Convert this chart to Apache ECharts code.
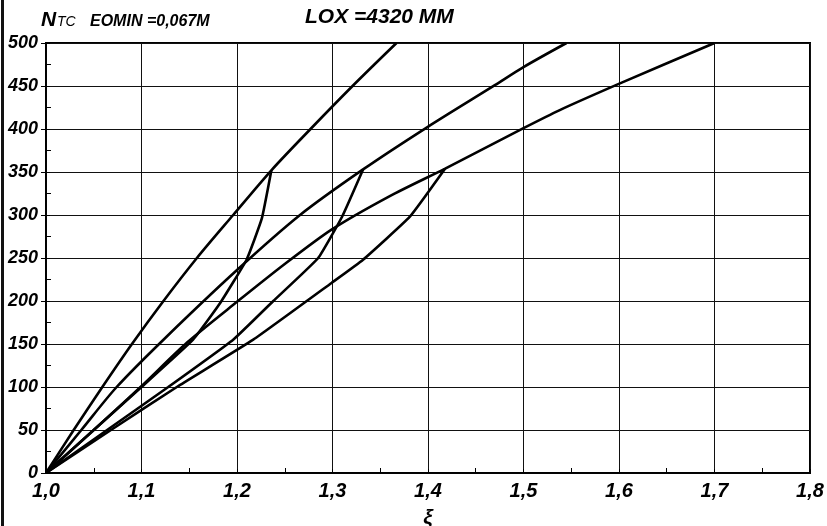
<!DOCTYPE html>
<html><head><meta charset="utf-8">
<script src="https://cdn.jsdelivr.net/npm/echarts@6/dist/echarts.min.js"></script>
<style>html,body{margin:0;padding:0;background:#fff}#c{width:827px;height:526px}</style>
</head><body><div id="c"></div>
<script>
// Curve set 1: loading branch and unloading branch
const loadA = [[1,0],[1.029,50],[1.059,100],[1.09,150],[1.123,200],[1.158,250],[1.196,300],[1.236,352],[1.277,400],[1.321,450],[1.367,500]];
const unloadA = [[1.236,352],[1.226,296],[1.21,248],[1.182,197],[1.154,155],[1.1,100],[1.05,50],[1,0]];
// Curve set 2
const loadB = [[1,0],[1.037,50],[1.074,100],[1.123,155],[1.2,236],[1.266,300],[1.332,353],[1.399,402],[1.47,451],[1.5,472],[1.545,500]];
const unloadB = [[1.332,353],[1.31,298],[1.285,250],[1.238,200],[1.196,155],[1.128,100],[1.064,50],[1,0]];
// Curve set 3
const loadC = [[1,0],[1.05,50],[1.099,100],[1.148,152],[1.2,199],[1.25,243],[1.299,283],[1.36,322],[1.418,354],[1.5,401],[1.538,422],[1.601,453],[1.7,500]];
const unloadC = [[1.418,354],[1.381,298],[1.332,248],[1.299,221],[1.217,155],[1.137,100],[1.068,50],[1,0]];

const yTicks = [0,50,100,150,200,250,300,350,400,450,500];
const xTickLabels = ['1,0','1,1','1,2','1,3','1,4','1,5','1,6','1,7','1,8'];

const FONT = "'Liberation Sans','DejaVu Sans'";
const chart = echarts.init(document.getElementById('c'));
const lineSeries = (d, s) => ({type:'line', data:d, smooth:s, showSymbol:false, symbol:'none',
  lineStyle:{color:'#000', width:2.6}, z:5, xAxisIndex:0, yAxisIndex:0});
chart.setOption({
  animation:false,
  backgroundColor:'#fff',
  grid:{left:46, right:17, top:43, bottom:53, show:true, borderColor:'#000', borderWidth:2,
    containLabel:false, outerBoundsMode:'none'},
  xAxis:[{
    type:'value', min:1.0, max:1.8, interval:0.1,
    axisLine:{show:true, lineStyle:{color:'#000', width:1.6}},
    axisTick:{show:true, inside:true, length:4, lineStyle:{color:'#000'}},
    minorTick:{show:true, splitNumber:2, length:5, lineStyle:{color:'#000', width:1}},
    splitLine:{show:true, lineStyle:{color:'#111', width:1}},
    axisLabel:{margin:8, color:'#000', fontFamily:FONT, fontStyle:'italic', fontWeight:'bold', fontSize:20,
      formatter:(v)=>xTickLabels[Math.round((v-1)*10)]},
    name:'ξ', nameLocation:'middle', nameGap:35,
    nameTextStyle:{color:'#000', fontFamily:FONT, fontStyle:'italic', fontWeight:'bold', fontSize:21}
  }],
  yAxis:[{
    type:'value', min:0, max:500, interval:50,
    axisLine:{show:true, lineStyle:{color:'#000', width:1.6}},
    axisTick:{show:true, inside:true, length:4, lineStyle:{color:'#000'}},
    minorTick:{show:true, splitNumber:2, length:5, lineStyle:{color:'#000', width:1}},
    splitLine:{show:true, lineStyle:{color:'#111', width:1}},
    axisLabel:{margin:8, color:'#000', fontFamily:FONT, fontStyle:'italic', fontWeight:'bold', fontSize:18,
      formatter:(v)=>String(v)}
  },{
    type:'value', min:0, max:500, interval:50, position:'left',
    axisLine:{show:false}, axisTick:{show:true, length:5, lineStyle:{color:'#000'}},
    axisLabel:{show:false}, splitLine:{show:false}
  }],
  series:[lineSeries(loadA,0.3), lineSeries(unloadA,0.12), lineSeries(loadB,0.3), lineSeries(unloadB,0.12), lineSeries(loadC,0.25), lineSeries(unloadC,0.12)],
  graphic:[
    {type:'rect', left:1, top:0, shape:{width:3, height:526}, style:{fill:'#111'}},
    {type:'text', left:41, top:10, style:{text:'N', fill:'#000', font:"italic bold 21px 'Liberation Sans'"}},
    {type:'text', left:57, top:15, style:{text:'TC', fill:'#000', font:"italic 14px 'Liberation Sans'"}},
    {type:'text', left:90, top:14, style:{text:'EOMIN =0,067M', fill:'#000', font:"italic bold 16px 'Liberation Sans'"}},
    {type:'text', left:305, top:7, style:{text:'LOX =4320 MM', fill:'#000', font:"italic bold 21px 'Liberation Sans'"}}
  ]
});
</script></body></html>
